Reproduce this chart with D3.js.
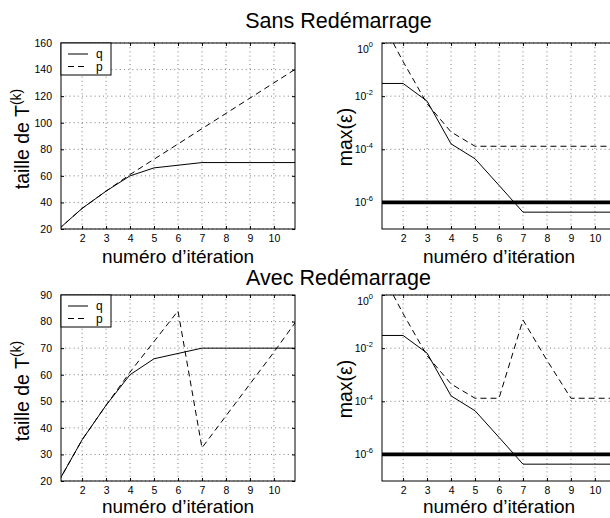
<!DOCTYPE html>
<html><head><meta charset="utf-8">
<script src="https://cdn.jsdelivr.net/npm/d3@7"></script>
<style>
body{margin:0;background:#fff}
svg{display:block}
text{font-family:"Liberation Sans",Arial,Helvetica,sans-serif;fill:#000}
</style>
</head><body>
<svg id="c" width="610" height="518"></svg>
<script>
// ---------- data ----------
const iterations = [1,2,3,4,5,6,7,8,9,10,11];
const xTicks = [2,3,4,5,6,7,8,9,10];
const titles = ["Sans Redémarrage", "Avec Redémarrage"];
const seriesNames = ["q", "p"];
const xLabel = "numéro d’itération";
const sizeTicksSans = [20,40,60,80,100,120,140,160];
const sizeTicksAvec = [20,30,40,50,60,70,80,90];
const errTicks = [1e0, 1e-2, 1e-4, 1e-6];
const errTickExp = ["0", "-2", "-4", "-6"];

// taille de T^(k)
const sizeQ      = [19.5,35.5,48.5,60,66,68,70,70,70,70,70];
const sizePSans  = [19.5,35.5,48.5,61,72.5,84,95.5,107,118.5,130,141.5];
const sizePAvec  = [19.5,35.5,48.5,61,72.5,84,32.5,44.5,56.5,68.5,81];
// max(eps)
const errQ       = [3.0e-2,3.0e-2,6.5e-3,1.6e-4,4.4e-5,4.4e-6,4.3e-7,4.3e-7,4.3e-7,4.3e-7,4.3e-7];
const errPSans   = [10,0.2,5.2e-3,4.5e-4,1.3e-4,1.3e-4,1.3e-4,1.3e-4,1.3e-4,1.3e-4,1.3e-4];
const errPAvec   = [10,0.2,5.2e-3,4.5e-4,1.3e-4,1.3e-4,0.115,3.5e-3,1.3e-4,1.3e-4,1.3e-4];
const tolerance  = 1e-6;

// ---------- layout ----------
const svg = d3.select("#c");
const W = 234, H = 186;
const colX = [61, 382];
const rowY = [43, 295];
const titleY = [28, 285];
const xDomain = [1.12, 10.88];

let clipId = 0;
function panel(px, py, opts){
  const g = svg.append("g").attr("transform", `translate(${px},${py})`);
  const x = d3.scaleLinear().domain(xDomain).range([0, W]);
  const y = opts.log
    ? d3.scaleLog().domain([1e-7, 1]).range([H, 0])
    : d3.scaleLinear().domain(opts.yDomain).range([H, 0]);
  const id = "clip" + (clipId++);
  g.append("clipPath").attr("id", id).append("rect").attr("width", W).attr("height", H);

  // grid
  const grid = g.append("g").attr("stroke", "#444").attr("stroke-width", 0.7)
    .attr("stroke-dasharray", "1,3.2");
  xTicks.forEach(t => grid.append("line").attr("x1", x(t)).attr("x2", x(t)).attr("y1", 0).attr("y2", H));
  opts.yTicks.forEach(t => grid.append("line").attr("x1", 0).attr("x2", W).attr("y1", y(t)).attr("y2", y(t)));

  // axes (ticks inside)
  const xAxisB = d3.axisBottom(x).tickValues(xTicks).tickSizeInner(-3).tickSizeOuter(0).tickPadding(6);
  const ax = g.append("g").attr("transform", `translate(0,${H})`).call(xAxisB);
  ax.select(".domain").remove();
  ax.selectAll("text").attr("font-size", 10.5).attr("font-family", "Liberation Sans, Arial, sans-serif");
  const xAxisT = d3.axisTop(x).tickValues(xTicks).tickSizeInner(-3).tickSizeOuter(0).tickFormat("");
  g.append("g").call(xAxisT).select(".domain").remove();

  const yAxisL = d3.axisLeft(y).tickValues(opts.yTicks).tickSizeInner(-3).tickSizeOuter(0).tickPadding(9);
  if (opts.log) yAxisL.tickFormat("");
  const ay = g.append("g").call(yAxisL);
  ay.select(".domain").remove();
  ay.selectAll("text").attr("font-size", 10.5).attr("font-family", "Liberation Sans, Arial, sans-serif");
  if (opts.log){
    opts.yTicks.forEach((t, i) => {
      const shift = i === 0 ? 6 : 0;
      const tx = g.append("text").attr("x", -9).attr("y", y(t) + shift).attr("dy", "0.38em")
        .attr("text-anchor", "end").attr("font-size", 10.5);
      tx.append("tspan").text("10");
      tx.append("tspan").attr("font-size", 7.5).attr("dy", "-0.75em").text(errTickExp[i]);
    });
  }
  const yAxisR = d3.axisRight(y).tickValues(opts.yTicks).tickSizeInner(-3).tickSizeOuter(0).tickFormat("");
  g.append("g").attr("transform", `translate(${W},0)`).call(yAxisR).select(".domain").remove();

  // data lines
  const plot = g.append("g").attr("clip-path", `url(#${id})`);
  const line = d3.line().x((d, i) => x(iterations[i])).y(d => y(d));
  if (opts.threshold !== undefined){
    plot.append("line").attr("x1", 0).attr("x2", W).attr("y1", y(opts.threshold)).attr("y2", y(opts.threshold))
      .attr("stroke", "#000").attr("stroke-width", 3.8);
  }
  plot.append("path").datum(opts.q).attr("d", line).attr("fill", "none").attr("stroke", "#000").attr("stroke-width", 1);
  plot.append("path").datum(opts.p).attr("d", line).attr("fill", "none").attr("stroke", "#000").attr("stroke-width", 1)
    .attr("stroke-dasharray", "6,4");

  // box
  g.append("rect").attr("width", W).attr("height", H).attr("fill", "none").attr("stroke", "#000").attr("stroke-width", 1);

  // legend
  if (opts.legend){
    const lg = g.append("g");
    lg.append("rect").attr("x", 0).attr("y", 0).attr("width", 50).attr("height", 32)
      .attr("fill", "#fff").attr("stroke", "#000").attr("stroke-width", 1);
    [["q", null, 11], ["p", "6,4", 23.5]].forEach(([name, dash, ly]) => {
      const l = lg.append("line").attr("x1", 7).attr("x2", 27).attr("y1", ly).attr("y2", ly)
        .attr("stroke", "#000").attr("stroke-width", 1);
      if (dash) l.attr("stroke-dasharray", dash);
      lg.append("text").attr("x", 35).attr("y", ly + 4).attr("font-size", 12).text(name);
    });
  }

  // x label
  g.append("text").attr("x", W / 2).attr("y", H + opts.xlabelOff).attr("text-anchor", "middle")
    .attr("font-size", 19).text(xLabel);

  // y label
  const yl = g.append("text").attr("transform", `translate(${opts.ylabelX},${H / 2 + opts.ylabelDy}) rotate(-90)`)
    .attr("text-anchor", "middle").attr("font-size", 19.5);
  if (opts.log){
    yl.text("max(ε)");
  } else {
    yl.append("tspan").text("taille de T");
    yl.append("tspan").attr("font-size", 14).attr("dy", "-0.55em").text("(k)");
  }
}

const rows = [
  {pSize: sizePSans, pErr: errPSans, ticks: sizeTicksSans, dom: [20,160], xlabelOff: 33.5},
  {pSize: sizePAvec, pErr: errPAvec, ticks: sizeTicksAvec, dom: [20,90], xlabelOff: 31.5}
];
rows.forEach((r, ri) => {
  panel(colX[0], rowY[ri], {yDomain: r.dom, yTicks: r.ticks, q: sizeQ, p: r.pSize, legend: true,
    xlabelOff: r.xlabelOff, ylabelX: -32, ylabelDy: 3});
  panel(colX[1], rowY[ri], {log: true, yTicks: errTicks, q: errQ, p: r.pErr, threshold: tolerance,
    xlabelOff: r.xlabelOff, ylabelX: -30, ylabelDy: 1});
  svg.append("text").attr("x", (colX[0] + colX[1] + W) / 2).attr("y", titleY[ri])
    .attr("text-anchor", "middle").attr("font-size", 21.5).text(titles[ri]);
});
</script>
</body></html>
